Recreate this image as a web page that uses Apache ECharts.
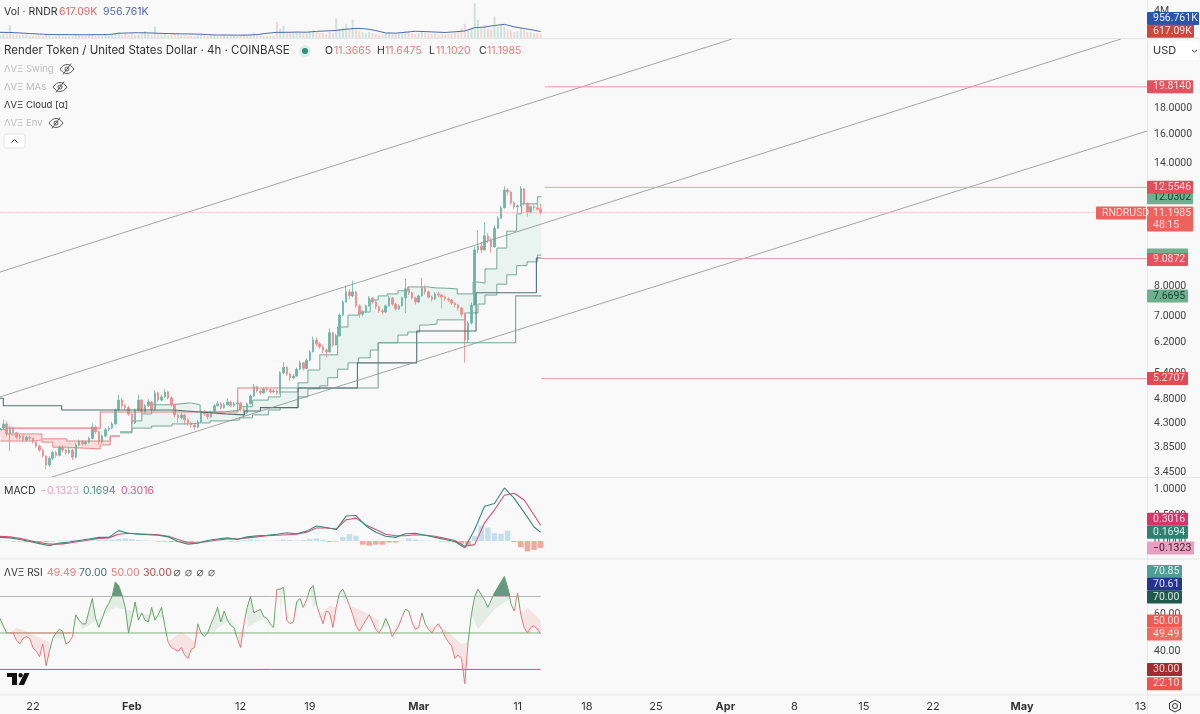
<!DOCTYPE html>
<html>
<head>
<meta charset="utf-8">
<style>
html, body { margin: 0; padding: 0; background: #f9f9f9; }
#chart { width: 1200px; height: 714px; }
</style>
<script src="https://cdn.jsdelivr.net/npm/echarts@6/dist/echarts.min.js"></script>
</head>
<body>
<div id="chart"></div>
<script>
// all x values are days counted from 22 Jan 2024
var firstCandleDay = -3.34;
var candleStep = 1 / 3;
var firstOpen = 4.18;

var candleClose = [
	4.21, 4.29, 4.10, 4.21, 4.12, 4.04, 4.06, 3.99, 4.04, 4.02,
	3.95, 3.88, 3.81, 3.71, 3.56, 3.67, 3.77, 3.72, 3.86, 3.81,
	3.77, 3.81, 3.69, 3.90, 3.97, 3.92, 3.95, 4.02, 4.23, 4.14,
	3.95, 4.06, 4.18, 4.21, 4.29, 4.57, 4.78, 4.66, 4.62, 4.49,
	4.31, 4.57, 4.78, 4.53, 4.66, 4.74, 4.57, 4.94, 4.78, 4.85,
	4.96, 4.83, 4.68, 4.47, 4.41, 4.47, 4.37, 4.31, 4.27, 4.23,
	4.33, 4.53, 4.49, 4.43, 4.53, 4.66, 4.70, 4.62, 4.68, 4.74,
	4.66, 4.70, 4.72, 4.59, 4.51, 4.70, 4.87, 5.08, 4.98, 4.94,
	5.03, 5.01, 4.96, 4.98, 4.94, 5.41, 5.55, 5.38, 5.29, 5.33,
	5.50, 5.66, 5.52, 5.73, 5.95, 6.28, 6.17, 6.09, 6.00, 5.95,
	6.49, 6.14, 6.40, 7.03, 7.46, 7.81, 7.67, 7.81, 7.33, 7.06,
	7.13, 7.33, 7.60, 7.46, 7.30, 7.17, 7.13, 7.33, 7.60, 7.39,
	7.23, 7.33, 7.60, 7.92, 7.78, 7.60, 7.46, 7.67, 7.95, 7.81,
	7.63, 7.56, 7.74, 7.70, 7.63, 7.56, 7.53, 7.42, 7.36, 7.26,
	7.06, 6.28, 6.78, 7.36, 9.45, 9.62, 9.45, 10.07, 9.88, 9.58,
	10.43, 10.91, 11.44, 12.40, 12.29, 11.70, 11.49, 11.54, 12.47, 11.65,
	11.23, 11.49, 11.44, 11.3665, 11.1985
];
var candleHigh = [
	4.33, 4.38, 4.34, 4.26, 4.24, 4.14, 4.10, 4.08, 4.07, 4.06,
	4.03, 3.97, 3.90, 3.83, 3.72, 3.70, 3.80, 3.80, 3.89, 3.89,
	3.84, 3.85, 3.83, 3.93, 4.00, 3.99, 3.98, 4.05, 4.30, 4.26,
	4.16, 4.09, 4.21, 4.25, 4.33, 4.60, 4.90, 4.82, 4.70, 4.66,
	4.52, 4.60, 4.90, 4.80, 4.70, 4.80, 4.76, 5.00, 4.96, 4.90,
	5.02, 4.99, 4.86, 4.70, 4.50, 4.51, 4.49, 4.40, 4.34, 4.30,
	4.36, 4.56, 4.57, 4.52, 4.56, 4.70, 4.76, 4.74, 4.72, 4.82,
	4.77, 4.74, 4.78, 4.74, 4.62, 4.73, 4.90, 5.14, 5.10, 5.02,
	5.06, 5.08, 5.04, 5.03, 5.02, 5.45, 5.68, 5.58, 5.42, 5.38,
	5.54, 5.72, 5.68, 5.78, 5.99, 6.38, 6.35, 6.22, 6.14, 6.05,
	6.62, 6.52, 6.46, 7.08, 7.52, 8.05, 7.92, 8.22, 7.84, 7.38,
	7.20, 7.37, 7.66, 7.64, 7.50, 7.34, 7.24, 7.38, 7.68, 7.63,
	7.43, 7.38, 7.65, 8.30, 8.00, 7.82, 7.65, 7.72, 8.33, 8.05,
	7.85, 7.68, 7.80, 7.82, 7.74, 7.68, 7.62, 7.56, 7.46, 7.40,
	7.30, 7.10, 6.85, 7.45, 9.60, 10.34, 9.80, 10.72, 10.20, 10.00,
	10.55, 11.02, 11.55, 12.62, 12.52, 12.32, 11.80, 11.62, 12.62, 12.50,
	11.72, 11.56, 11.62, 11.68, 11.6475
];
var candleLow = [
	4.12, 4.18, 4.06, 3.79, 4.06, 4.00, 4.00, 3.95, 3.96, 3.98,
	3.92, 3.85, 3.78, 3.68, 3.49, 3.53, 3.64, 3.68, 3.70, 3.77,
	3.73, 3.74, 3.64, 3.67, 3.88, 3.89, 3.89, 3.93, 4.00, 4.10,
	3.90, 3.93, 4.04, 4.15, 4.19, 4.27, 4.54, 4.60, 4.56, 4.45,
	4.25, 4.29, 4.55, 4.48, 4.50, 4.63, 4.52, 4.55, 4.74, 4.75,
	4.83, 4.79, 4.64, 4.42, 4.32, 4.38, 4.28, 4.25, 4.22, 4.18,
	4.21, 4.31, 4.45, 4.38, 4.41, 4.51, 4.64, 4.58, 4.60, 4.66,
	4.62, 4.63, 4.67, 4.54, 4.40, 4.49, 4.68, 4.85, 4.95, 4.90,
	4.92, 4.97, 4.92, 4.93, 4.89, 4.92, 5.38, 5.33, 5.22, 5.25,
	5.31, 5.48, 5.47, 5.50, 5.71, 5.93, 6.10, 6.03, 5.92, 5.80,
	5.93, 6.08, 6.12, 6.38, 7.00, 7.44, 7.55, 7.62, 7.26, 6.95,
	6.99, 7.10, 7.30, 7.40, 7.22, 7.10, 7.05, 7.10, 7.30, 7.33,
	7.17, 7.20, 7.30, 7.10, 7.70, 7.54, 7.38, 7.43, 7.65, 7.72,
	7.58, 7.48, 7.54, 7.62, 7.25, 7.50, 7.46, 7.36, 7.28, 7.18,
	6.98, 5.66, 6.20, 6.74, 7.33, 9.30, 9.30, 9.42, 9.75, 9.33,
	9.55, 10.40, 10.88, 11.40, 12.10, 11.60, 11.36, 11.20, 11.50, 11.55,
	11.00, 11.15, 11.30, 11.30, 11.1020
];

// one value per candle, millions
var volumeValues = [
	.5, .6, .7, 1.9, .6, .5, .4, .4, .5, .4,
	.3, .4, .4, .3, .5, .4, .3, .3, .4, .3,
	.3, .3, .3, .4, .3, .3, .3, .4, .5, .3,
	.4, .3, .4, .3, .5, .7, .9, .5, .6, .5,
	.6, .4, .5, .6, 1.0, .7, .5, 1.7, .6, .5,
	.7, .4, .5, .6, .5, .4, .4, .3, .3, .3,
	.5, .4, .3, .3, .4, .4, .3, .3, .4, .3,
	.3, .3, .3, .3, .5, .4, .5, .8, .4, .3,
	.3, .3, .3, .3, 2.4, 1.4, 1.8, 1.0, .9, .8,
	.9, .8, .7, .8, .9, 1.1, .9, .7, .7, .6,
	.9, .8, 2.9, 1.4, 1.5, 2.1, 1.2, 2.7, 1.3, 1.0,
	.8, .7, .9, .7, .6, .5, .5, .7, .8, .6,
	.6, .7, .8, 1.1, .9, .7, .6, .7, 1.0, .8,
	.7, .6, .7, .5, .6, .5, .6, .7, .8, .9,
	1.4, 2.1, 1.2, 1.5, 5.1, 2.7, 1.6, 1.9, 1.4, 1.3,
	3.2, 1.6, 2.1, 1.7, 1.3, 1.1, .9, 1.0, 1.4, 1.1,
	.9, .8, .7, .7, .61709
];
// one value per day
var volumeMa = [
	.84, .82, .75, .66, .58, .52, .50, .50, .48, .48,
	.50, .50, .70, .75, .78, .76, .70, .66, .62, .60,
	.58, .50, .44, .44, .42, .44, .50, .70, .84, .84,
	.88, .86, .98, 1.05, 1.12, 1.30, 1.43, 1.35, 1.10, .75,
	.72, .85, 1.0, .95, .88, .82, .92, 1.04, 1.53, 1.62,
	1.85, 2.02, 1.65, 1.40, 1.15, .956761
];

var channelUpperDays = [-3.34, 70.68];
var channelUpperPrices = [8.549, 24.61];
var channelMiddleDays = [-3.34, 110];
var channelMiddlePrices = [4.85, 24.61];
var channelLowerDays = [1.92, 112.64];
var channelLowerPrices = [3.372, 16.21];

var levelPrices = [19.814, 12.5546, 9.0872, 5.2707];
var levelStartDays = [51.77, 51.77, 51.4, 51.4];
var lastPrice = 11.1985;

var greenCloudDays = [8.8, 10, 11, 12, 14.05, 15.9, 16.9, 17.9, 19.4, 20.9, 22.2, 23.8, 25, 26.8, 27.8, 29, 29.8, 30.8, 31.85, 32.9, 34.1, 34.9, 35.8, 36.9, 37.9, 39.1, 39.9, 40.85, 41.35, 42.9, 43.7, 44.5, 45, 45.7, 46.9, 47.9, 48.9, 49.4, 49.95, 51, 51.4];
var greenCloudTop = [4.14, 4.35, 4.49, 4.68, 4.72, 4.68, 4.53, 4.53, 4.57, 4.64, 4.78, 4.85, 4.96, 5.17, 5.48, 5.87, 5.87, 6.66, 7.03, 7.13, 7.53, 7.67, 7.74, 7.85, 7.99, 7.99, 7.95, 7.95, 7.92, 7.74, 7.74, 8.17, 8.13, 8.67, 9.53, 10.29, 11.13, 11.65, 11.65, 12.0302, 12.0302];
var greenCloudBottom = [4.12, 4.21, 4.21, 4.25, 4.29, 4.31, 4.31, 4.35, 4.37, 4.41, 4.47, 4.57, 4.62, 4.85, 5.03, 5.10, 5.29, 5.50, 5.66, 5.79, 6.00, 6.20, 6.20, 6.42, 6.51, 6.72, 6.75, 6.88, 6.88, 6.88, 7.10, 7.10, 7.39, 7.70, 8.09, 8.44, 8.80, 8.80, 8.95, 9.23, 9.23];

var redCloudDays = [-3.3, -2.6, 0, 0.9, 2, 3.4, 6.8, 7.8, 8.8];
var redCloudTop = [4.18, 4.10, 4.10, 4.01, 4.01, 3.97, 3.97, 4.06, 4.06];
var redCloudBottom = [3.97, 3.97, 3.99, 3.95, 3.86, 3.83, 3.90, 4.06, 4.06];

var baseRedDays = [-2.6, 6.8, 20.7, 24.8];
var baseRedPrices = [4.21, 4.53, 5.05, 5.05];
var baseGreenDays = [24.8, 34.9, 48.8, 51.4];
var baseGreenPrices = [5.05, 6.20, 7.6695, 7.6695];

var laggingDays = [-3.34, -3, 2.9, 14.2, 16.9, 19.4, 21.4, 23, 26.8, 32.8, 38.8, 44.8, 50.9, 51.4];
var laggingPrices = [4.82, 4.66, 4.57, 4.53, 4.49, 4.47, 4.55, 4.62, 5.05, 5.66, 6.54, 7.78, 9.11, 9.11];

// one value per day
var macdValues = [
	.07, .06, .03, -.01, -.05, -.09, -.04, -.02, .01, .04,
	.07, .07, .20, .15, .13, .12, .11, .08, -.01, -.06,
	-.04, .01, .04, .06, .03, .08, .10, .11, .13, .16,
	.14, .19, .29, .26, .22, .48, .49, .29, .17, .09,
	.07, .14, .15, .11, .07, .03, -.01, -.13, .22, .67,
	.72, 1.02, .82, .55, .27, .1694
];
var macdSignal = [
	.09, .08, .05, .01, -.03, -.06, -.06, -.04, -.01, .02,
	.05, .06, .13, .15, .14, .13, .12, .09, .03, -.03,
	-.04, -.01, .02, .04, .04, .06, .08, .10, .11, .12,
	.13, .17, .25, .25, .23, .41, .44, .31, .22, .13,
	.10, .10, .12, .11, .09, .05, .01, -.10, -.07, .35,
	.60, .88, .92, .79, .50, .3016
];
// one value per two candles
var macdHistogram = [
	.01, .01, -.01, -.01, -.02, -.02, -.02, -.02, -.01, .01,
	.01, .02, .01, .01, .01, .02, .02, .03, .04, .05,
	.04, .02, .01, .005, -.01, -.01, -.02, -.02, -.03, -.02,
	-.01, .01, .01, .02, .01, -.01, -.01, .02, .03, .02,
	.01, .005, .01, .03, .02, .01, .02, .04, .05, .02,
	-.02, -.01, .08, .13, .10, -.07, -.09, -.07, -.07, -.03,
	-.03, .01, .05, .03, .01, .01, .005, -.01, -.01, -.03,
	-.05, -.09, .10, .30, .26, .15, .14, .20, -.02, -.12,
	-.20, -.17, -.1323
];

// one value per candle
var rsiValues = [
	58, 54, 50, 50, 50, 46, 44, 47, 48, 47,
	42, 40, 37, 44, 32, 40, 47, 50, 52, 51,
	44, 45, 48, 60, 57, 55, 55, 62, 69, 58,
	53, 58, 63, 66, 70, 78, 76, 71, 64, 50,
	58, 67, 57, 61, 57, 56, 64, 57, 60, 64,
	54, 45, 42, 41, 40, 42, 38, 36, 41, 42,
	55, 50, 48, 50, 55, 59, 64, 56, 62, 57,
	54, 53, 47, 42, 55, 64, 70, 61, 62, 63,
	59, 58, 55, 53, 74, 74, 75, 57, 55, 56,
	67, 69, 64, 68, 74, 76, 66, 60, 55, 62,
	61, 53, 64, 72, 74, 70, 65, 60, 54, 51,
	54, 57, 60, 56, 52, 50, 53, 58, 54, 48,
	51, 54, 59, 63, 62, 56, 52, 53, 61, 55,
	52, 50, 53, 55, 52, 48, 45, 43, 36, 38,
	36, 22.10, 45, 60, 70, 74, 71, 68, 64, 68,
	72, 75, 78, 81, 75, 66, 62, 72, 60, 53,
	50, 53, 54, 52, 49.49
];
// one value per five candles, last one on the last candle
var rsiMa = [55, 53, 49, 45, 47, 52, 58, 64, 62, 60, 58, 51, 44, 51, 58, 53, 58, 60, 60, 64, 65, 66, 62, 57, 54, 55, 54, 52, 44, 52, 63, 69, 64, 57];
// days where the RSI line changes side of its average
var rsiTurnDays = [-3.4, -2.6, 1.7, 3.4, 4.0, 13.5, 16.7, 20.6, 21.4, 24.5, 24.8, 25.5, 26.5, 27.3, 27.8, 28.7, 30.7, 31.9, 35.3, 36.1, 37.4, 38.1, 39.3, 39.8, 44.0, 48.5, 49.0, 49.2, 51.5];
var rsiTurnUp = [true, false, true, false, true, false, true, false, true, false, true, false, true, false, true, false, true, false, true, false, true, false, true, false, true, false, true, false];
var rsiOverboughtFrom = [8.0, 46.5];
var rsiOverboughtTo = [9.2, 48.3];
var rsiLevels = [70, 50, 30];
var rsiMidRedFrom = -2.3;
var rsiMidRedTo = 3.8;

var xTickDays = [0, 10, 21, 28, 39, 49, 56, 63, 70, 77, 84, 91, 100, 112];
var xTickLabels = ['22', 'Feb', '12', '19', 'Mar', '11', '18', '25', 'Apr', '8', '15', '22', 'May', '13'];
var priceTicks = [18, 16, 14, 12, 8, 7, 6.2, 5.4, 4.8, 4.3, 3.85, 3.45];
var macdTicks = [1, 0.5, 0];
var rsiTicks = [60, 40, 20];

var xMin = -3.337, xMax = 112.64;
var UP = '#6bb5a6', DOWN = '#e98d8c';
var FONT = 'Inter, "Noto Sans", sans-serif';
var SCALE_FONT = 'Roboto, Inter, sans-serif';
var lastDay = firstCandleDay + 164 * candleStep;

function candleDay(i) {
	return firstCandleDay + i * candleStep;
}
function zip(days, values) {
	return days.map(function(d, i) { return [d, values[i]]; });
}
function stepPoints(days, values) {
	var pts = [];
	days.forEach(function(d, i) {
		if (i > 0) pts.push([d, values[i - 1]]);
		pts.push([d, values[i]]);
	});
	return pts;
}

var candleData = candleClose.map(function(c, i) {
	var open = i ? candleClose[i - 1] : firstOpen;
	return [candleDay(i), open, c, candleLow[i], candleHigh[i]];
});
var volumeData = volumeValues.map(function(v, i) {
	var open = i ? candleClose[i - 1] : firstOpen;
	var up = candleClose[i] >= open;
	return { value: [candleDay(i), v], itemStyle: { color: up ? 'rgba(95,174,157,.3)' : 'rgba(229,128,127,.3)' } };
});
function perDay(values) {
	return values.map(function(v, i) { return [candleDay(Math.min(3 * i, 164)), v]; });
}
var histData = macdHistogram.map(function(v, i) {
	return { value: [candleDay(2 * i), v], itemStyle: { color: v >= 0 ? '#c4e0ee' : '#f0a99b' } };
});
var rsiData = rsiValues.map(function(v, i) { return [candleDay(i), v]; });
var rsiMaData = rsiMa.map(function(v, i) { return [candleDay(Math.min(5 * i, 164)), v]; });

var series = [];

function lineSeries(axis, data, color, width, extra) {
	var s = {
		type: 'line', xAxisIndex: axis, yAxisIndex: axis, data: data,
		symbol: 'none', silent: true, animation: false,
		lineStyle: { color: color, width: width }, z: 4
	};
	for (var k in extra) s[k] = extra[k];
	return s;
}
function polygonSeries(axis, anchor, polygons) {
	// polygons: list of {points, fill}, all in data values
	return {
		type: 'custom', xAxisIndex: axis, yAxisIndex: axis, data: [anchor],
		silent: true, animation: false, z: 1,
		renderItem: function(params, api) {
			return {
				type: 'group',
				children: polygons.map(function(p) {
					return {
						type: 'polygon',
						shape: { points: p.points.map(function(pt) { return api.coord(pt); }) },
						style: { fill: p.fill }
					};
				})
			};
		}
	};
}
function tagSeries(axis, tags) {
	return {
		type: 'custom', xAxisIndex: axis, yAxisIndex: axis,
		data: tags.map(function(t) { return [xMax, t.value]; }),
		silent: true, animation: false, z: 20,
		renderItem: function(params, api) {
			var t = tags[params.dataIndex];
			var p = api.coord([xMax, t.value]);
			var y = p[1] + (t.dy || 0);
			var x = p[0] + (t.dx || 0);
			return {
				type: 'group',
				children: [
					{ type: 'rect', shape: { x: x, y: y - 6.5, width: t.w, height: 13, r: 1 }, style: { fill: t.fill } },
					{ type: 'text', x: x + 6, y: y, style: { text: t.text, fill: t.ink, font: '10.5px ' + SCALE_FONT, verticalAlign: 'middle' } }
				]
			};
		}
	};
}

// volume pane
series.push({ type: 'bar', xAxisIndex: 0, yAxisIndex: 0, data: volumeData, barWidth: 2, silent: true, animation: false });
series.push(lineSeries(0, perDay(volumeMa), '#4a6ba8', 1));
series.push(tagSeries(0, [
	{ value: 0.956761, text: '956.761K', fill: '#2a55ae', ink: '#e4ebfa', w: 52, dy: -13 },
	{ value: 0.61709, text: '617.09K', fill: '#c9483f', ink: '#fbdcd8', w: 47, dy: -2.5 }
]));

// price pane
series.push(polygonSeries(1, [greenCloudDays[0], greenCloudTop[0]], [
	{ points: stepPoints(greenCloudDays, greenCloudTop).concat(stepPoints(greenCloudDays, greenCloudBottom).reverse()), fill: '#e9f3ef' },
	{ points: stepPoints(redCloudDays, redCloudTop).concat(stepPoints(redCloudDays, redCloudBottom).reverse()), fill: '#fadcda' }
]));
series.push(lineSeries(1, zip(greenCloudDays, greenCloudTop), '#74a898', 1, { step: 'end', z: 2 }));
series.push(lineSeries(1, zip(greenCloudDays, greenCloudBottom), '#74a898', 1, { step: 'end', z: 2 }));
series.push(lineSeries(1, zip(redCloudDays, redCloudTop), '#e58a8a', 1, { step: 'end', z: 2 }));
series.push(lineSeries(1, zip(redCloudDays, redCloudBottom), '#e58a8a', 1, { step: 'end', z: 2 }));
series.push({
	type: 'candlestick', xAxisIndex: 1, yAxisIndex: 1, data: candleData,
	encode: { x: 0, y: [1, 2, 3, 4] },
	barWidth: 2, silent: true, animation: false, z: 3,
	itemStyle: { color: UP, color0: DOWN, borderColor: UP, borderColor0: DOWN, borderWidth: 0.8 }
});
series.push(lineSeries(1, zip(baseRedDays, baseRedPrices), '#e58080', 1.1, { step: 'end' }));
series.push(lineSeries(1, zip(baseGreenDays, baseGreenPrices), '#76a596', 1.1, { step: 'end' }));
series.push(lineSeries(1, zip(laggingDays, laggingPrices), '#51716f', 1.1, { step: 'end' }));
series.push(lineSeries(1, zip(channelUpperDays, channelUpperPrices), '#8b918f', 0.8));
series.push(lineSeries(1, zip(channelMiddleDays, channelMiddlePrices), '#8b918f', 0.8));
series.push(lineSeries(1, zip(channelLowerDays, channelLowerPrices), '#8b918f', 0.8));
levelPrices.forEach(function(p, i) {
	series.push(lineSeries(1, [[levelStartDays[i], p], [xMax, p]], '#e9a0a5', 1));
});
series.push(lineSeries(1, [[xMin, lastPrice], [xMax, lastPrice]], '#f1a5a2', 0.8, { lineStyle: { color: '#f1a5a2', width: 0.8, type: 'dotted' } }));
series.push(tagSeries(1, [
	{ value: 19.814, text: '19.8140', fill: '#e2535f', ink: '#fbdcdc', w: 46 },
	{ value: 12.0302, text: '12.0302', fill: '#6fb08f', ink: '#173f30', w: 46, dy: 1 },
	{ value: 12.5546, text: '12.5546', fill: '#e0505a', ink: '#fbd9d9', w: 46 },
	{ value: 11.1985, text: '11.1985', fill: '#ee625e', ink: '#fde0de', w: 46, dy: 0.5 },
	{ value: 11.1985, text: '48:15', fill: '#ee625e', ink: '#fde0de', w: 46, dy: 12.5 },
	{ value: 11.1985, text: 'RNDRUSD', fill: '#ee625e', ink: '#fde0de', w: 50, dx: -51, dy: 0.5 },
	{ value: 9.23, text: '', fill: '#6fb08f', ink: '#173f30', w: 41 },
	{ value: 9.0872, text: '9.0872', fill: '#e2535f', ink: '#fbdcdc', w: 41, dy: 1 },
	{ value: 7.6695, text: '7.6695', fill: '#6fb08f', ink: '#173f30', w: 41 },
	{ value: 5.2707, text: '5.2707', fill: '#e04a55', ink: '#fbdcdc', w: 41 }
]));

// macd pane
series.push({ type: 'bar', xAxisIndex: 2, yAxisIndex: 2, data: histData, barWidth: 5.5, silent: true, animation: false });
series.push(lineSeries(2, perDay(macdSignal), '#d25078', 1.1));
series.push(lineSeries(2, perDay(macdValues), '#3d8878', 1.1));
series.push(tagSeries(2, [
	{ value: 0.3016, text: '0.3016', fill: '#d8336b', ink: '#fbdbe6', w: 41, dy: -6 },
	{ value: 0.1694, text: '0.1694', fill: '#2f8070', ink: '#d9efe9', w: 41 },
	{ value: -0.1323, text: '\u22120.1323', fill: '#ea9fc0', ink: '#3a2430', w: 47 }
]));

// rsi pane
var rsiBands = [];
rsiTurnUp.forEach(function(up, i) {
	var a = rsiTurnDays[i], b = rsiTurnDays[i + 1];
	var top = rsiData.filter(function(p) { return p[0] >= a && p[0] <= b; });
	var ma = rsiMaData.filter(function(p) { return p[0] >= a && p[0] <= b; });
	if (top.length + ma.length > 2) {
		rsiBands.push({ points: top.concat(ma.reverse()), fill: up ? 'rgba(105,170,110,.14)' : 'rgba(235,105,105,.14)' });
	}
});
rsiOverboughtFrom.forEach(function(a, i) {
	var top = rsiData.filter(function(p) { return p[0] >= a && p[0] <= rsiOverboughtTo[i]; });
	rsiBands.push({ points: [[a, 70]].concat(top, [[rsiOverboughtTo[i], 70]]), fill: 'rgba(50,115,90,.7)' });
});
series.push(polygonSeries(3, [0, 50], rsiBands));
var rsiLevelColors = ['#b4b6b4', '#7cb27a', '#e4505c'];
rsiLevels.forEach(function(v, i) {
	series.push(lineSeries(3, [[xMin, v], [lastDay, v]], rsiLevelColors[i], 1, { z: 5 }));
});
series.push(lineSeries(3, [[rsiMidRedFrom, 50], [rsiMidRedTo, 50]], '#e58a8a', 1, { z: 5 }));
// colour comes from the visualMap pieces, so no colour in lineStyle here
series.push(lineSeries(3, rsiData, null, 1, { lineStyle: { width: 1 }, z: 6 }));
var rsiLineIndex = series.length - 1;
series.push(tagSeries(3, [
	{ value: 70.85, text: '70.85', fill: '#4d9e94', ink: '#dff1ee', w: 35, dy: -23.5 },
	{ value: 70.61, text: '70.61', fill: '#24348f', ink: '#dfe3f7', w: 35, dy: -11 },
	{ value: 70, text: '70.00', fill: '#1f5a4c', ink: '#d8ebe5', w: 35, dy: 0.5 },
	{ value: 50, text: '50.00', fill: '#ef5b52', ink: '#fde0de', w: 35, dy: -12 },
	{ value: 49.49, text: '49.49', fill: '#ef6a60', ink: '#fde0de', w: 35 },
	{ value: 30, text: '30.00', fill: '#a32b2b', ink: '#f7dcdc', w: 35 },
	{ value: 22.10, text: '22.10', fill: '#ef5350', ink: '#fde0de', w: 35 }
]));

var rsiPieces = rsiTurnUp.map(function(up, i) {
	return { gte: rsiTurnDays[i], lt: rsiTurnDays[i + 1], color: up ? '#67a566' : '#e37a78' };
});

var grids = [
	{ left: 0, right: 53, top: 0, height: 38 },
	{ left: 0, right: 53, top: 39, height: 438 },
	{ left: 0, right: 53, top: 478, height: 80 },
	{ left: 0, right: 53, top: 560, height: 135 }
];
var xAxes = grids.map(function(g, i) {
	return {
		type: 'value', gridIndex: i, min: xMin, max: xMax,
		axisLine: { show: false }, axisTick: { show: false }, splitLine: { show: false },
		axisLabel: i < 3 ? { show: false } : {
			customValues: xTickDays, margin: 6, hideOverlap: false,
			color: '#333', fontSize: 11, fontFamily: FONT,
			formatter: function(v) {
				var s = xTickLabels[xTickDays.indexOf(v)];
				return isNaN(+s) ? '{b|' + s + '}' : s;
			},
			rich: { b: { fontWeight: 700, color: '#333', fontSize: 11, fontFamily: FONT } }
		}
	};
});
function yAxis(i, min, max, ticks, digits, type) {
	return {
		type: type || 'value', gridIndex: i, position: 'right', min: min, max: max,
		axisLine: { show: false }, axisTick: { show: false }, splitLine: { show: false },
		axisLabel: {
			customValues: ticks, margin: 7, hideOverlap: false, color: '#444', fontSize: 10.5, fontFamily: SCALE_FONT,
			formatter: function(v) { return digits < 0 ? Math.round(v) + 'M' : (+v).toFixed(digits); }
		}
	};
}
var yAxes = [
	yAxis(0, 0, 5.63, [4], -1),
	yAxis(1, 3.372, 24.61, priceTicks, 4, 'log'),
	yAxis(2, -0.327, 1.212, macdTicks, 4),
	yAxis(3, 16, 90, rsiTicks, 2)
];

// header, legends and other chrome
function label(x, y, text, color, size, weight) {
	return { type: 'text', x: x, y: y, silent: true, z: 50, style: { text: text, fill: color, font: (weight || 400) + ' ' + (size || 11) + 'px ' + FONT, verticalAlign: 'middle' } };
}
function rule(x1, y1, x2, y2) {
	return { type: 'line', silent: true, z: 0, shape: { x1: x1, y1: y1, x2: x2, y2: y2 }, style: { stroke: '#e6e6e6', lineWidth: 1 } };
}
function eyeOff(cx, cy) {
	var eyeStyle = { fill: 'none', stroke: '#5c5c5c', lineWidth: 1 };
	return { type: 'group', silent: true, z: 50, children: [
		{ type: 'bezierCurve', shape: { x1: cx - 7, y1: cy, x2: cx + 7, y2: cy, cpx1: cx - 3, cpy1: cy - 6, cpx2: cx + 3, cpy2: cy - 6 }, style: eyeStyle },
		{ type: 'bezierCurve', shape: { x1: cx - 7, y1: cy, x2: cx + 7, y2: cy, cpx1: cx - 3, cpy1: cy + 6, cpx2: cx + 3, cpy2: cy + 6 }, style: eyeStyle },
		{ type: 'circle', shape: { cx: cx, cy: cy, r: 2 }, style: eyeStyle },
		{ type: 'line', shape: { x1: cx - 4, y1: cy + 5.5, x2: cx + 4, y2: cy - 5.5 }, style: eyeStyle }
	] };
}
var hexPoints = [[1175, 700], [1180.5, 703], [1180.5, 709], [1175, 712], [1169.5, 709], [1169.5, 703]];

var chrome = [
	rule(0, 38.5, 1200, 38.5), rule(0, 477.5, 1200, 477.5), rule(0, 559, 1200, 559), rule(0, 695, 1200, 695), rule(1147.5, 0, 1147.5, 714),
	label(4, 12, 'Vol \u00b7 RNDR', '#333', 10.5),
	label(59, 12, '617.09K', '#d96b6b', 10.5),
	label(103, 12, '956.761K', '#4c66a8', 10.5),
	label(4, 51, 'Render Token / United States Dollar \u00b7 4h \u00b7 COINBASE', '#333', 11.5),
	{ type: 'circle', silent: true, z: 50, shape: { cx: 305, cy: 51, r: 6 }, style: { fill: '#dcefe9' } },
	{ type: 'circle', silent: true, z: 51, shape: { cx: 305, cy: 51, r: 3 }, style: { fill: '#2f8f78' } },
	label(325, 51, 'O', '#333', 10.5), label(334, 51, '11.3665', '#e0807e', 10.5),
	label(377, 51, 'H', '#333', 10.5), label(385, 51, '11.6475', '#e0807e', 10.5),
	label(429, 51, 'L', '#333', 10.5), label(436, 51, '11.1020', '#e0807e', 10.5),
	label(479, 51, 'C', '#333', 10.5), label(487, 51, '11.1985', '#e0807e', 10.5),
	label(4, 69, '\u039bV\u039e Swing', '#bdbdbd', 9.5), eyeOff(67, 69),
	label(4, 87, '\u039bV\u039e MAs', '#bdbdbd', 9.5), eyeOff(60, 87),
	label(4, 105, '\u039bV\u039e Cloud [\u03b1]', '#333', 9.5),
	label(4, 123, '\u039bV\u039e Env', '#bdbdbd', 9.5), eyeOff(56, 123),
	{ type: 'rect', silent: true, z: 50, shape: { x: 4, y: 134, width: 21, height: 14, r: 2 }, style: { fill: '#fff', stroke: '#e4e4e4' } },
	{ type: 'polyline', silent: true, z: 51, shape: { points: [[11.5, 142.5], [14.5, 139.5], [17.5, 142.5]] }, style: { stroke: '#333', fill: 'none', lineWidth: 1 } },
	{ type: 'rect', silent: true, z: 50, shape: { x: 1151, y: 41, width: 48, height: 19, r: 2 }, style: { fill: '#fff' } },
	label(1153, 51, 'USD', '#333', 11),
	{ type: 'polyline', silent: true, z: 51, shape: { points: [[1192, 50], [1194.5, 52], [1197, 50]] }, style: { stroke: '#333', fill: 'none', lineWidth: 1 } },
	label(4, 491, 'MACD', '#333', 10.5),
	label(40, 491, '\u22120.1323', '#eba6c2', 10.5),
	label(83, 491, '0.1694', '#4f8f84', 10.5),
	label(121, 491, '0.3016', '#d4588a', 10.5),
	label(4, 573, '\u039bV\u039e RSI', '#333', 10),
	label(47, 573, '49.49', '#e0807e', 10.5),
	label(79, 573, '70.00', '#3f6f63', 10.5),
	label(111, 573, '50.00', '#e0807e', 10.5),
	label(143, 573, '30.00', '#b44a4a', 10.5),
	{ type: 'group', silent: true, z: 50, children: [177, 188.5, 200, 211.5].map(function(x) {
		return { type: 'group', children: [
			{ type: 'circle', shape: { cx: x, cy: 573, r: 2.8 }, style: { fill: 'none', stroke: '#555', lineWidth: 0.8 } },
			{ type: 'line', shape: { x1: x - 3, y1: 576, x2: x + 3, y2: 570 }, style: { stroke: '#555', lineWidth: 0.8 } }
		] };
	}) },
	// chart library logo
	{ type: 'polygon', silent: true, z: 50, shape: { points: [[7, 673], [17, 673], [17, 685], [12, 685], [12, 677], [7, 677]] }, style: { fill: '#111' } },
	{ type: 'circle', silent: true, z: 50, shape: { cx: 20.6, cy: 675.2, r: 2.2 }, style: { fill: '#111' } },
	{ type: 'polygon', silent: true, z: 50, shape: { points: [[24.5, 673], [29.5, 673], [24, 685], [18.5, 685]] }, style: { fill: '#111' } },
	{ type: 'polygon', silent: true, z: 50, shape: { points: hexPoints }, style: { fill: 'none', stroke: '#333', lineWidth: 1 } },
	{ type: 'circle', silent: true, z: 50, shape: { cx: 1175, cy: 706, r: 2.5 }, style: { fill: 'none', stroke: '#333', lineWidth: 1 } }
];

var myChart = echarts.init(document.getElementById('chart'));
myChart.setOption({
	backgroundColor: '#f9f9f9',
	animation: false,
	grid: grids,
	xAxis: xAxes,
	yAxis: yAxes,
	visualMap: [{ type: 'piecewise', show: false, dimension: 0, seriesIndex: rsiLineIndex, pieces: rsiPieces, outOfRange: { color: '#999' } }],
	graphic: chrome,
	series: series
});
</script>
</body>
</html>
